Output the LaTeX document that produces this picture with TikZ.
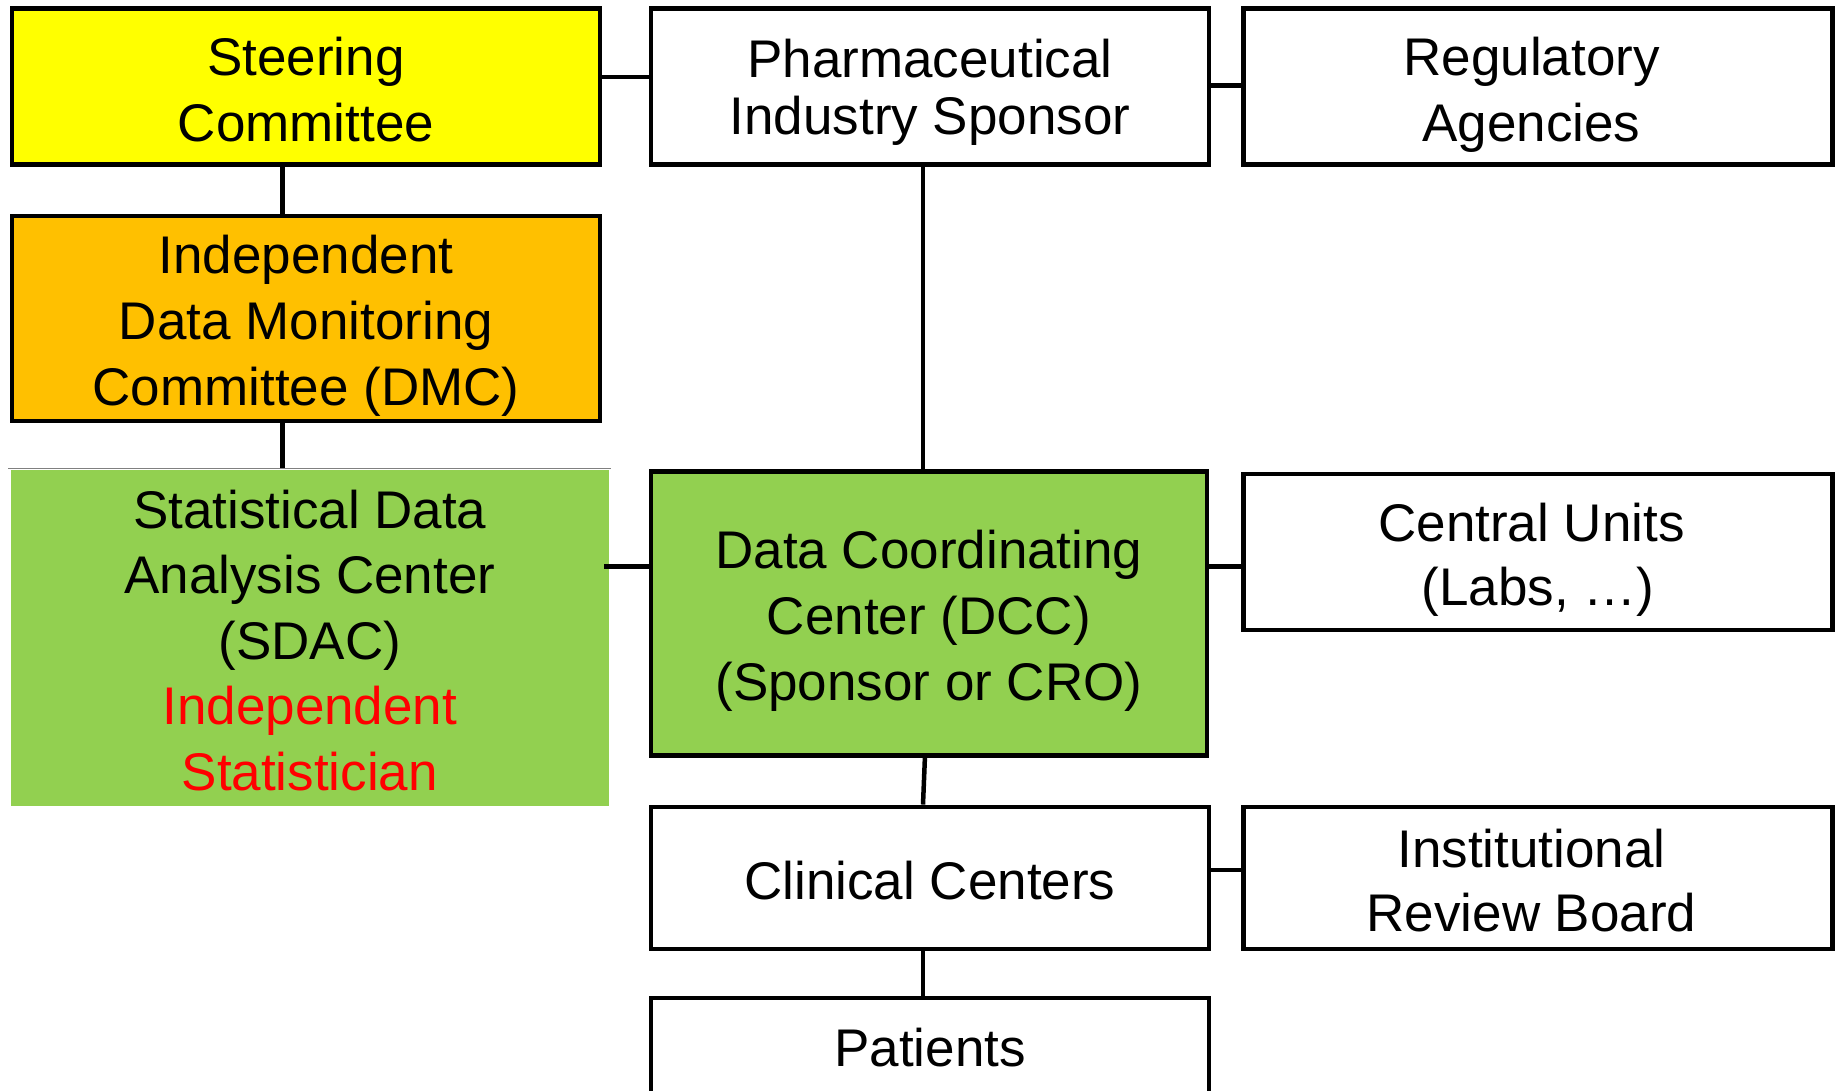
\documentclass[tikz,border=0pt]{standalone}
\usepackage{fontspec}
\setmainfont{Liberation Sans}
\definecolor{steeryellow}{HTML}{FFFF00}
\definecolor{dmcorange}{HTML}{FFC000}
\definecolor{boxgreen}{HTML}{92D050}
\definecolor{textred}{HTML}{FF0000}
\newcommand{\ls}{\rule[-10.5pt]{0pt}{64.5pt}}
\newcommand{\lst}{\rule[-6.5pt]{0pt}{56.5pt}}
\newcommand{\lsr}{\hspace*{-13pt}\ls}
\newcommand{\lsp}{\rule[-14pt]{0pt}{64.5pt}}
\begin{document}
\begin{tikzpicture}[x=1pt,y=-1pt,
  orgbox/.style={draw=black, line width=4.5pt, align=center, inner sep=0pt,
     font=\fontsize{53}{64.5}\selectfont},
  tightbox/.style={orgbox, font=\fontsize{53}{56.5}\selectfont},
  link/.style={draw=black, line width=4.5pt}]
\useasboundingbox (0,0) rectangle (1839,1091);
\clip (0,0) rectangle (1839,1091);
\fill[white] (0,0) rectangle (1839,1091);

\node[orgbox, fill=steeryellow, minimum width=588pt, minimum height=156pt] (steer) at (306,86.75) {\ls Steering\\\ls Committee};
\node[tightbox, fill=white, minimum width=558pt, minimum height=156pt] (pharma) at (930,86.75) {\lst Pharmaceutical\\\lst Industry Sponsor};
\node[orgbox, fill=white, minimum width=589pt, minimum height=156pt] (reg) at (1538,86.75) {\lsr Regulatory\\\lsr Agencies};
\node[orgbox, fill=dmcorange, minimum width=588pt, minimum height=205pt] (dmc) at (306,318.4) {\ls Independent\\\ls Data Monitoring\\\ls Committee (DMC)};
\node[orgbox, draw=none, fill=boxgreen, minimum width=598.5pt, minimum height=335.4pt] (sdac) at (309.8,638) {\ls Statistical Data\\\ls Analysis Center\\\ls (SDAC)\\\ls\textcolor{textred}{Independent}\\\ls\textcolor{textred}{Statistician}};
\draw[gray, line width=1pt] (sdac.north west) -- (sdac.north east);
\node[orgbox, fill=boxgreen, minimum width=556pt, minimum height=284pt] (dcc) at (928.9,613.4) {\ls Data Coordinating\\\ls Center (DCC)\\\ls (Sponsor or CRO)};
\node[orgbox, fill=white, minimum width=589pt, minimum height=156pt] (central) at (1538,551.8) {\lsr Central Units\\\ls (Labs, \dots)};
\node[orgbox, fill=white, minimum width=558pt, minimum height=142pt] (clin) at (930,877.8) {\ls Clinical Centers};
\node[orgbox, fill=white, minimum width=589pt, minimum height=142pt] (irb) at (1538,877.8) {\lsr Institutional\\\lsr Review Board};
\node[orgbox, fill=white, minimum width=558pt, minimum height=101pt] (pat) at (930,1048.5) {\lsp Patients};

% connectors
\draw[link] ([yshift=9.6pt]steer.east) -- ([yshift=9.6pt]steer.east -| pharma.west);
\draw[link] ([yshift=1.4pt]pharma.east) -- ([yshift=1.4pt]pharma.east -| reg.west);
\draw[link] ([xshift=-23.4pt]steer.south) -- ([xshift=-23.4pt]dmc.north);
\draw[link] ([xshift=-23.4pt]dmc.south) -- ([xshift=-23.4pt]dmc.south |- sdac.north);
\draw[link] ([xshift=-7pt]pharma.south) -- ([xshift=-7pt]pharma.south |- dcc.north);
\draw[link] ([yshift=46.9pt]dcc.west) -- ([yshift=46.9pt,xshift=-7pt]dcc.west -| sdac.east);
\draw[link] ([yshift=46.9pt]dcc.east) -- ([yshift=46.9pt]dcc.east -| central.west);
\draw[link] ([xshift=-4pt]dcc.south) -- ([xshift=-7pt]clin.north);
\draw[link] ([yshift=7.8pt]clin.east) -- ([yshift=7.8pt]clin.east -| irb.west);
\draw[link] ([xshift=-7pt]clin.south) -- ([xshift=-7pt]pat.north);
\end{tikzpicture}
\end{document}
